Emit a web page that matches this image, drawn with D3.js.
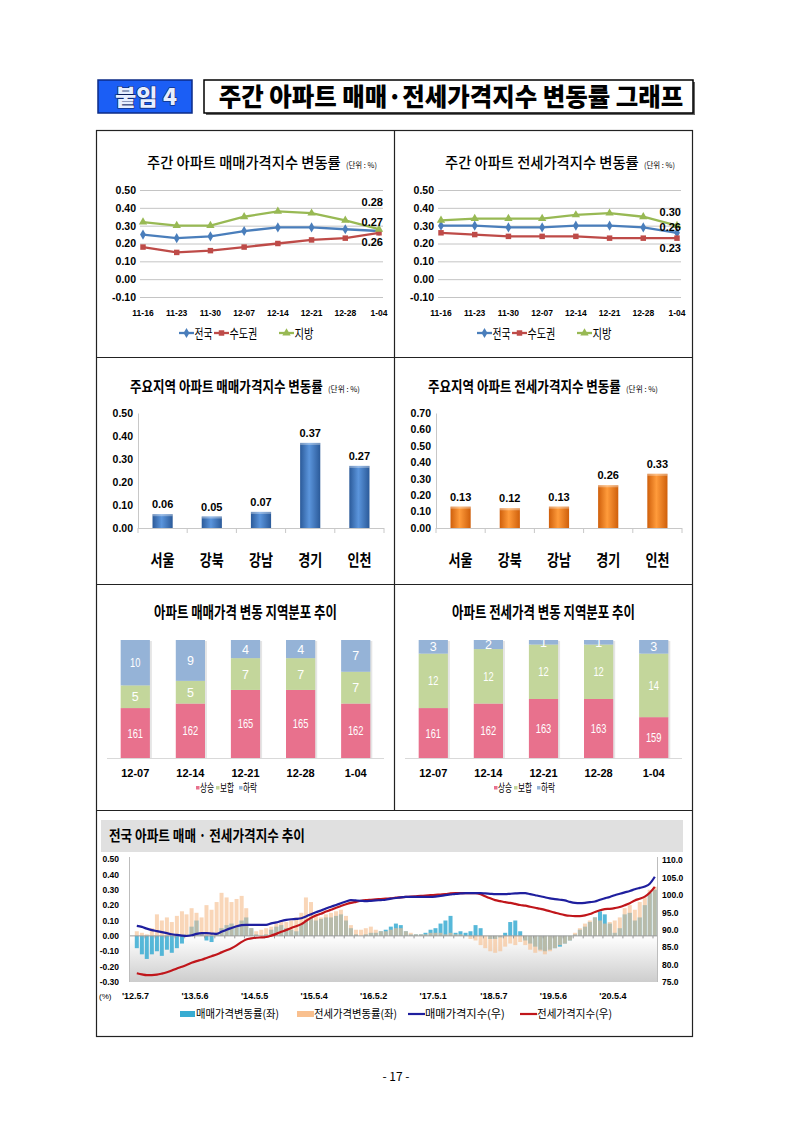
<!DOCTYPE html>
<html>
<head>
<meta charset="utf-8">
<style>
  body { margin: 0; background: #fff; }
  svg { display: block; }
</style>
</head>
<body>
<svg id="page"></svg>
<script src="https://cdnjs.cloudflare.com/ajax/libs/d3/7.8.5/d3.min.js"></script>
<script>
// ---------- data ----------
// weekly change rate (%), last 8 weeks
const weeks = ["11-16", "11-23", "11-30", "12-07", "12-14", "12-21", "12-28", "1-04"];
const lineNames = ["전국", "수도권", "지방"];
const saleNation = [0.25, 0.23, 0.24, 0.27, 0.29, 0.29, 0.28, 0.27];
const saleCapital = [0.18, 0.15, 0.16, 0.18, 0.20, 0.22, 0.23, 0.26];
const saleLocal = [0.32, 0.30, 0.30, 0.35, 0.38, 0.37, 0.33, 0.28];
const rentNation = [0.30, 0.30, 0.29, 0.29, 0.30, 0.30, 0.29, 0.26];
const rentCapital = [0.26, 0.25, 0.24, 0.24, 0.24, 0.23, 0.23, 0.23];
const rentLocal = [0.33, 0.34, 0.34, 0.34, 0.36, 0.37, 0.35, 0.30];
const lineTicks = [-0.1, 0, 0.1, 0.2, 0.3, 0.4, 0.5];

// major regions
const regions = ["서울", "강북", "강남", "경기", "인천"];
const regionSale = [0.06, 0.05, 0.07, 0.37, 0.27];
const regionRent = [0.13, 0.12, 0.13, 0.26, 0.33];
const saleTicks = [0, 0.1, 0.2, 0.3, 0.4, 0.5];
const rentTicks = [0, 0.1, 0.2, 0.3, 0.4, 0.5, 0.6, 0.7];

// number of regions rising / flat / falling
const distWeeks = ["12-07", "12-14", "12-21", "12-28", "1-04"];
const distKeys = ["상승", "보합", "하락"];
const saleUp = [161, 162, 165, 165, 162];
const saleFlat = [5, 5, 7, 7, 7];
const saleDown = [10, 9, 4, 4, 7];
const rentUp = [161, 162, 163, 163, 159];
const rentFlat = [12, 12, 12, 12, 14];
const rentDown = [3, 2, 1, 1, 3];

// national trend, one value per month from 2012.5 to 2021.1
const saleRate = [
  -0.08, -0.12, -0.15, -0.12, -0.10, -0.13, -0.09, -0.11, -0.08, -0.05,
  0.01, 0.06, 0.10, 0.02, -0.03, -0.04, 0.02, 0.05, 0.07, 0.08,
  0.06, 0.10, 0.12, 0.05, 0.01, 0.00, 0.01, 0.04, 0.06, 0.07,
  0.05, 0.04, 0.03, 0.08, 0.10, 0.12, 0.10, 0.11, 0.12, 0.12,
  0.13, 0.14, 0.10, 0.05, 0.01, 0.00, 0.01, 0.02, 0.02, 0.03,
  0.04, 0.06, 0.08, 0.07, 0.03, 0.01, 0.01, 0.01, 0.02, 0.04,
  0.05, 0.08, 0.10, 0.13, 0.02, 0.03, 0.02, 0.03, 0.07, 0.05,
  0.00, -0.02, -0.02, -0.01, 0.02, 0.09, 0.10, 0.03, -0.03, -0.05,
  -0.07, -0.09, -0.10, -0.09, -0.08, -0.07, -0.05, -0.03, 0.01, 0.04,
  0.06, 0.09, 0.12, 0.16, 0.14, 0.08, 0.02, 0.05, 0.14, 0.15,
  0.10, 0.12, 0.20, 0.28, 0.30
];
const rentRate = [
  0.03, 0.02, 0.01, 0.05, 0.14, 0.10, 0.12, 0.09, 0.13, 0.16,
  0.14, 0.18, 0.15, 0.12, 0.20, 0.17, 0.22, 0.28, 0.25, 0.22,
  0.24, 0.26, 0.18, 0.05, 0.03, 0.04, 0.05, 0.06, 0.08, 0.10,
  0.09, 0.10, 0.12, 0.15, 0.25, 0.22, 0.14, 0.12, 0.14, 0.15,
  0.16, 0.17, 0.13, 0.07, 0.04, 0.04, 0.05, 0.06, 0.04, 0.03,
  0.03, 0.04, 0.05, 0.05, 0.03, 0.02, 0.01, 0.01, 0.01, 0.02,
  0.02, 0.02, 0.01, 0.02, 0.01, 0.01, 0.00, -0.02, -0.03, -0.06,
  -0.08, -0.10, -0.11, -0.10, -0.07, -0.05, -0.06, -0.04, -0.06, -0.09,
  -0.11, -0.10, -0.12, -0.10, -0.08, -0.06, -0.05, -0.03, 0.02, 0.05,
  0.08, 0.10, 0.12, 0.10, 0.08, 0.09, 0.10, 0.12, 0.18, 0.20,
  0.17, 0.22, 0.25, 0.30, 0.32
];
const saleIndex = [
  91.1, 90.8, 90.3, 89.9, 89.6, 89.3, 89.0, 88.7, 88.5, 88.3,
  88.2, 88.4, 88.8, 89.0, 89.0, 88.9, 88.8, 89.4, 90.0, 90.5,
  91.0, 91.3, 91.4, 91.4, 91.4, 91.4, 91.4, 91.8, 92.1, 92.5,
  92.8, 93.0, 93.1, 93.3, 93.8, 94.4, 95.0, 95.5, 96.1, 96.6,
  97.1, 97.6, 98.1, 98.5, 98.4, 98.3, 98.2, 98.3, 98.4, 98.5,
  98.6, 98.9, 99.1, 99.3, 99.4, 99.4, 99.4, 99.4, 99.4, 99.4,
  99.5, 99.7, 99.9, 100.1, 100.3, 100.4, 100.5, 100.5, 100.5, 100.5,
  100.4, 100.3, 100.2, 100.2, 100.2, 100.3, 100.4, 100.5, 100.5, 100.2,
  99.9, 99.6, 99.3, 99.0, 98.8, 98.6, 98.4, 98.0, 97.7, 97.6,
  97.7, 97.9, 98.1, 98.6, 99.0, 99.4, 99.9, 100.3, 100.7, 101.1,
  101.6, 102.0, 102.4, 103.2, 105.2
];
const rentIndex = [
  77.5, 77.2, 77.0, 77.0, 77.1, 77.4, 77.8, 78.3, 78.9, 79.4,
  79.9, 80.5, 81.0, 81.4, 81.9, 82.4, 82.9, 83.5, 84.1, 84.7,
  85.5, 86.5, 87.2, 87.5, 87.7, 87.8, 87.9, 88.3, 88.8, 89.4,
  89.9, 90.5, 91.0, 91.6, 92.5, 93.4, 94.1, 94.6, 95.2, 95.7,
  96.3, 96.8, 97.3, 97.7, 98.0, 98.3, 98.5, 98.6, 98.7, 98.8,
  98.9, 99.0, 99.2, 99.3, 99.4, 99.5, 99.6, 99.7, 99.8, 99.9,
  100.0, 100.1, 100.2, 100.4, 100.5, 100.5, 100.5, 100.5, 100.5, 100.2,
  99.6, 99.0, 98.5, 98.2, 97.9, 97.7, 97.4, 97.1, 96.9, 96.6,
  96.3, 96.0, 95.7, 95.3, 94.9, 94.5, 94.2, 94.0, 93.9, 93.9,
  94.1, 94.5, 95.1, 95.6, 95.9, 96.0, 96.2, 96.5, 97.0, 97.6,
  98.4, 98.9, 99.5, 100.6, 102.3
];
const rateTicks = [-0.3, -0.2, -0.1, 0, 0.1, 0.2, 0.3, 0.4, 0.5];
const indexTicks = [75, 80, 85, 90, 95, 100, 105, 110];
const trendTickDates = ["2012-05-07", "2013-05-06", "2014-05-05", "2015-05-04", "2016-05-02",
  "2017-05-01", "2018-05-07", "2019-05-06", "2020-05-04"];
const trendTickLabels = ["'12.5.7", "'13.5.6", "'14.5.5", "'15.5.4", "'16.5.2",
  "'17.5.1", "'18.5.7", "'19.5.6", "'20.5.4"];

// ---------- setup ----------
const KR = "'Noto Sans CJK KR', 'Noto Sans', sans-serif";
const NUM = "'Liberation Sans', Arial, sans-serif";
const f2 = d => d.toFixed(2);

const svg = d3.select("#page").attr("width", 793).attr("height", 1121);
const defs = svg.append("defs");

function grad(id, stops, vertical) {
  const lg = defs.append("linearGradient").attr("id", id)
    .attr("x1", 0).attr("y1", 0).attr("x2", vertical ? 0 : 1).attr("y2", vertical ? 1 : 0);
  stops.forEach(s => lg.append("stop").attr("offset", s[0]).attr("stop-color", s[1]));
}
grad("gBlue", [[0, "#2b5a99"], [0.45, "#5b95dc"], [1, "#2b5a99"]]);
grad("gOrange", [[0, "#cf5f0b"], [0.45, "#ff9b3b"], [1, "#cf5f0b"]]);
grad("gShade", [[0, "#ffffff"], [1, "#cdcdcd"]], true);

// squeeze a text horizontally so that it spans `len` pixels (the source is a narrowed scan)
function squeeze(t, x, y, len) {
  const w = t.node().getComputedTextLength();
  if (w > 0) t.attr("transform", `translate(${x},${y}) scale(${len / w},1) translate(${-x},${-y})`);
}

function label(g, x, y, str, o = {}) {
  const t = g.append("text").attr("x", x).attr("y", y).text(str)
    .attr("font-family", o.family || KR)
    .attr("font-size", o.size || 12)
    .attr("font-weight", o.weight || 400)
    .attr("text-anchor", o.anchor || "start")
    .attr("fill", o.fill || "#000");
  if (o.len) squeeze(t, x, y, o.len);
  return t;
}

// ---------- header ----------
const head = svg.append("g");
head.append("rect").attr("x", 98).attr("y", 80).attr("width", 94).attr("height", 33)
  .attr("fill", "#1b5ef5").attr("stroke", "#0c2b86").attr("stroke-width", 1.5);
label(head, 146, 105, "붙임 4", { size: 22, weight: 900, anchor: "middle", fill: "#e6eeff", len: 62 })
  .attr("stroke", "#0a1d5c").attr("stroke-width", 1.2).attr("paint-order", "stroke");
head.append("rect").attr("x", 206).attr("y", 82).attr("width", 489).attr("height", 33).attr("fill", "#666");
head.append("rect").attr("x", 204).attr("y", 80).attr("width", 489).attr("height", 33)
  .attr("fill", "#fff").attr("stroke", "#000").attr("stroke-width", 1.5);
label(head, 451, 106, "주간 아파트 매매·전세가격지수 변동률 그래프", { size: 25, weight: 900, anchor: "middle", len: 465 });

// ---------- frame ----------
const frame = svg.append("g").attr("fill", "none").attr("stroke", "#222").attr("stroke-width", 1.2);
frame.append("rect").attr("x", 96.5).attr("y", 130.5).attr("width", 596).attr("height", 906);
frame.append("line").attr("x1", 394.5).attr("x2", 394.5).attr("y1", 130.5).attr("y2", 810.5);
[357.5, 584.5, 810.5].forEach(y =>
  frame.append("line").attr("x1", 96.5).attr("x2", 692.5).attr("y1", y).attr("y2", y));

// ---------- weekly line charts ----------
const lineColors = ["#4a7ebb", "#be4b48", "#98b954"];
const lineSymbols = [d3.symbolDiamond, d3.symbolSquare, d3.symbolTriangle];

function weeklyChart(dx, title, series, noteDy) {
  const g = svg.append("g").attr("transform", `translate(${dx},0)`);
  const x = d3.scalePoint().domain(weeks).range([143, 379]);
  const y = d3.scaleLinear().domain([-0.1, 0.5]).range([297, 190]);

  label(g, 147, 168, title, { size: 15, weight: 500, len: 194 });
  label(g, 346, 168, "(단위 : %)", { size: 8, len: 31 });

  const ax = g.append("g").attr("transform", "translate(140,0)")
    .call(d3.axisLeft(y).tickValues(lineTicks).tickSize(-243).tickPadding(4).tickFormat(f2));
  ax.select(".domain").remove();
  ax.selectAll("line").attr("stroke", "#c4c4c4");
  ax.selectAll("text").attr("font-family", NUM).attr("font-size", 10.5)
    .attr("font-weight", 700).attr("fill", "#000");

  g.append("g").selectAll("text").data(weeks).join("text")
    .attr("x", d => x(d)).attr("y", 316).attr("text-anchor", "middle")
    .attr("font-family", NUM).attr("font-size", 8.5).attr("font-weight", 700).text(d => d);

  const line = d3.line().x((d, i) => x(weeks[i])).y(d => y(d));
  series.forEach((s, k) => {
    g.append("path").datum(s).attr("d", line).attr("fill", "none")
      .attr("stroke", lineColors[k]).attr("stroke-width", 2.3);
    g.append("g").selectAll("path").data(s).join("path")
      .attr("transform", (d, i) => `translate(${x(weeks[i])},${y(d)})`)
      .attr("d", d3.symbol().type(lineSymbols[k]).size(30))
      .attr("fill", lineColors[k]);
  });
  series.forEach((s, k) => {
    const last = s[s.length - 1];
    label(g, 383, y(last) + noteDy[k], f2(last), { family: NUM, size: 11, weight: 700, anchor: "end" });
  });

  // legend
  const lx = [179, 214, 279], tl = [18, 28, 19];
  lineNames.forEach((n, k) => {
    g.append("line").attr("x1", lx[k]).attr("x2", lx[k] + 15).attr("y1", 333).attr("y2", 333)
      .attr("stroke", lineColors[k]).attr("stroke-width", 2.3);
    g.append("path").attr("transform", `translate(${lx[k] + 7.5},333)`)
      .attr("d", d3.symbol().type(lineSymbols[k]).size(30)).attr("fill", lineColors[k]);
    label(g, lx[k] + 15.5, 338, n, { size: 13, len: tl[k] });
  });
}
weeklyChart(0, "주간 아파트 매매가격지수 변동률", [saleNation, saleCapital, saleLocal], [-5, 13, -23]);
weeklyChart(298, "주간 아파트 전세가격지수 변동률", [rentNation, rentCapital, rentLocal], [-2, 14, -10]);

// ---------- regional bar charts ----------
function regionChart(dx, title, values, ticks, fill) {
  const g = svg.append("g").attr("transform", `translate(${dx},0)`);
  const x = d3.scaleBand().domain(regions).range([138, 384]).paddingInner(0.59).paddingOuter(0.295);
  const y = d3.scaleLinear().domain([0, d3.max(ticks)]).range([528, 413]);

  label(g, 130, 392, title, { size: 15, weight: 700, len: 193 });
  label(g, 328, 392, "(단위 : %)", { size: 8, len: 32 });

  const ax = g.append("g").attr("transform", "translate(138,0)")
    .call(d3.axisLeft(y).tickValues(ticks).tickSize(0).tickSizeOuter(0).tickPadding(5).tickFormat(f2));
  ax.select(".domain").attr("stroke", "#c8c8c8");
  ax.selectAll("text").attr("font-family", NUM).attr("font-size", 10.5)
    .attr("font-weight", 700).attr("fill", "#000");

  g.append("line").attr("x1", 138).attr("x2", 384).attr("y1", 528.5).attr("y2", 528.5).attr("stroke", "#c8c8c8");
  const edges = regions.map(r => x(r) - (x.step() - x.bandwidth()) / 2).concat([384]);
  g.append("g").selectAll("line").data(edges).join("line")
    .attr("x1", d => d).attr("x2", d => d).attr("y1", 528).attr("y2", 533).attr("stroke", "#c8c8c8");

  g.append("g").selectAll("rect").data(values).join("rect")
    .attr("x", (d, i) => x(regions[i])).attr("y", d => y(d))
    .attr("width", x.bandwidth()).attr("height", d => 528 - y(d))
    .attr("fill", `url(#${fill})`);
  g.append("g").selectAll("rect").data(values).join("rect")
    .attr("x", (d, i) => x(regions[i])).attr("y", d => y(d))
    .attr("width", x.bandwidth()).attr("height", 2)
    .attr("fill", "#fff").attr("opacity", 0.35);

  g.append("g").selectAll("text").data(values).join("text")
    .attr("x", (d, i) => x(regions[i]) + x.bandwidth() / 2).attr("y", d => y(d) - 6)
    .attr("text-anchor", "middle").attr("font-family", NUM).attr("font-size", 11)
    .attr("font-weight", 700).text(d => f2(d));

  regions.forEach(r => label(g, x(r) + x.bandwidth() / 2, 566, r,
    { size: 16, weight: 700, anchor: "middle", len: 24 }));
}
regionChart(0, "주요지역 아파트 매매가격지수 변동률", regionSale, saleTicks, "gBlue");
regionChart(298, "주요지역 아파트 전세가격지수 변동률", regionRent, rentTicks, "gOrange");

// ---------- distribution stacked charts ----------
const distColors = ["#e8718d", "#c3d69b", "#95b3d7"];

function distChart(dx, title, up, flat, down, clipId) {
  const g = svg.append("g").attr("transform", `translate(${dx},0)`);
  const x = d3.scaleBand().domain(distWeeks).range([108, 383]).paddingInner(0.47).paddingOuter(0.23);
  const y = d3.scaleLinear().domain([150, 176]).range([758, 640]);

  label(g, 245.5, 618, title, { size: 16, weight: 700, anchor: "middle", len: 183 });

  defs.append("clipPath").attr("id", clipId).append("rect")
    .attr("x", 100).attr("y", y(176)).attr("width", 290).attr("height", 758 - y(176));

  const rows = distWeeks.map((w, i) => ({ week: w, "상승": up[i], "보합": flat[i], "하락": down[i] }));
  const layers = d3.stack().keys(distKeys)(rows);

  g.append("line").attr("x1", 107).attr("x2", 384).attr("y1", 758.5).attr("y2", 758.5).attr("stroke", "#d9d9d9");
  g.append("g").selectAll("rect").data(rows).join("rect")
    .attr("x", d => x(d.week) + 2).attr("y", y(176) + 1)
    .attr("width", x.bandwidth()).attr("height", 758 - y(176) - 1)
    .attr("fill", "#000").attr("opacity", 0.1);

  const body = g.append("g").attr("clip-path", `url(#${clipId})`);
  layers.forEach((layer, k) => {
    body.append("g").selectAll("rect").data(layer).join("rect")
      .attr("x", d => x(d.data.week)).attr("y", d => y(d[1]))
      .attr("width", x.bandwidth()).attr("height", d => y(Math.max(d[0], 150)) - y(d[1]))
      .attr("fill", distColors[k]);
  });
  layers.forEach(layer => {
    layer.forEach(d => {
      const s = String(d[1] - d[0]);
      const cx = x(d.data.week) + x.bandwidth() / 2;
      const cy = (y(d[1]) + y(Math.max(d[0], 150))) / 2 + 4.5;
      label(body, cx, cy, s, { family: NUM, size: 12.5, anchor: "middle", fill: "#fff",
        len: s.length > 1 ? s.length * 5.2 : null });
    });
  });

  g.append("g").selectAll("text").data(distWeeks).join("text")
    .attr("x", d => x(d) + x.bandwidth() / 2).attr("y", 777).attr("text-anchor", "middle")
    .attr("font-family", NUM).attr("font-size", 11).attr("font-weight", 700).text(d => d);

  const lx = [196, 216, 239];
  distKeys.forEach((k, i) => {
    g.append("rect").attr("x", lx[i]).attr("y", 786).attr("width", 3.5).attr("height", 3.5).attr("fill", distColors[i]);
    label(g, lx[i] + 4, 792, k, { size: 11, len: 14 });
  });
}
distChart(0, "아파트 매매가격 변동 지역분포 추이", saleUp, saleFlat, saleDown, "clipSale");
distChart(298, "아파트 전세가격 변동 지역분포 추이", rentUp, rentFlat, rentDown, "clipRent");

// ---------- national trend chart ----------
const trend = svg.append("g");
trend.append("rect").attr("x", 101).attr("y", 820).attr("width", 582).attr("height", 32).attr("fill", "#e0e0e0");
label(trend, 109, 841, "전국 아파트 매매 · 전세가격지수 추이", { size: 15, weight: 700, len: 196 });

const months = d3.timeMonth.range(new Date(2012, 4, 1), new Date(2021, 1, 1)).map(m => d3.timeDay.offset(m, 14));
const tx = d3.scaleTime().domain([new Date(2012, 4, 7), new Date(2021, 0, 4)]).range([135.5, 653]);
const yr = d3.scaleLinear().domain([-0.3, 0.5]).range([982, 859]);
const yi = d3.scaleLinear().domain([75, 110]).range([982, 860]);

trend.append("rect").attr("x", 129).attr("y", yr(0)).attr("width", 528).attr("height", 982 - yr(0))
  .attr("fill", "url(#gShade)");

const barW = 4;
trend.append("g").selectAll("rect").data(saleRate).join("rect")
  .attr("x", (d, i) => tx(months[i]) - barW / 2).attr("width", barW)
  .attr("y", d => Math.min(yr(d), yr(0))).attr("height", d => Math.abs(yr(d) - yr(0)))
  .attr("fill", "#38acd2").attr("opacity", 0.85);
trend.append("g").selectAll("rect").data(rentRate).join("rect")
  .attr("x", (d, i) => tx(months[i]) - barW / 2).attr("width", barW)
  .attr("y", d => Math.min(yr(d), yr(0))).attr("height", d => Math.abs(yr(d) - yr(0)))
  .attr("fill", "#f6bd8c").attr("opacity", 0.62);

// zero line with small ticks
const zx = trend.append("g").attr("transform", `translate(0,${yr(0)})`)
  .call(d3.axisBottom(tx).ticks(d3.timeMonth.every(2)).tickSize(2.5).tickFormat(""));
zx.select(".domain").remove();
zx.selectAll("line").attr("stroke", "#999");
trend.append("line").attr("x1", 129).attr("x2", 657).attr("y1", yr(0)).attr("y2", yr(0)).attr("stroke", "#9a9a9a");

trend.append("line").attr("x1", 129.5).attr("x2", 129.5).attr("y1", 857).attr("y2", 982).attr("stroke", "#bdbdbd");
trend.append("line").attr("x1", 657.5).attr("x2", 657.5).attr("y1", 857).attr("y2", 982).attr("stroke", "#bdbdbd");

const idxLine = d3.line().x((d, i) => tx(months[i])).y(d => yi(d)).curve(d3.curveMonotoneX);
trend.append("path").datum(rentIndex).attr("d", idxLine).attr("fill", "none")
  .attr("stroke", "#c0161b").attr("stroke-width", 2.2);
trend.append("path").datum(saleIndex).attr("d", idxLine).attr("fill", "none")
  .attr("stroke", "#1f1f9e").attr("stroke-width", 2.2);

const la = trend.append("g").attr("transform", "translate(124,0)")
  .call(d3.axisLeft(yr).tickValues(rateTicks).tickSize(0).tickPadding(5).tickFormat(f2));
la.select(".domain").remove();
la.selectAll("text").attr("font-family", NUM).attr("font-size", 8.5).attr("font-weight", 700).attr("fill", "#000");

const ra = trend.append("g").attr("transform", "translate(657,0)")
  .call(d3.axisRight(yi).tickValues(indexTicks).tickSize(0).tickPadding(5).tickFormat(d => d.toFixed(1)));
ra.select(".domain").remove();
ra.selectAll("text").attr("font-family", NUM).attr("font-size", 8.5).attr("font-weight", 700).attr("fill", "#000");

label(trend, 99, 999, "(%)", { family: NUM, size: 8 });
trend.append("g").selectAll("text").data(trendTickDates).join("text")
  .attr("x", d => tx(new Date(d + "T00:00:00"))).attr("y", 999).attr("text-anchor", "middle")
  .attr("font-family", NUM).attr("font-size", 9).attr("font-weight", 700)
  .text((d, i) => trendTickLabels[i]);

// legend
trend.append("rect").attr("x", 180).attr("y", 1011).attr("width", 15).attr("height", 6).attr("fill", "#38acd2");
label(trend, 196, 1018, "매매가격변동률(좌)", { size: 11, len: 83 });
trend.append("rect").attr("x", 297).attr("y", 1011).attr("width", 17).attr("height", 6).attr("fill", "#f9c08f");
label(trend, 314, 1018, "전세가격변동률(좌)", { size: 11, len: 83 });
trend.append("line").attr("x1", 408).attr("x2", 425).attr("y1", 1014).attr("y2", 1014)
  .attr("stroke", "#1f1f9e").attr("stroke-width", 2.2);
label(trend, 425, 1018, "매매가격지수(우)", { size: 11, len: 80 });
trend.append("line").attr("x1", 520).attr("x2", 537).attr("y1", 1014).attr("y2", 1014)
  .attr("stroke", "#c0161b").attr("stroke-width", 2.2);
label(trend, 537, 1018, "전세가격지수(우)", { size: 11, len: 75 });

// ---------- page number ----------
label(svg, 396, 1081, "- 17 -", { size: 12, anchor: "middle" });
</script>
</body>
</html>
